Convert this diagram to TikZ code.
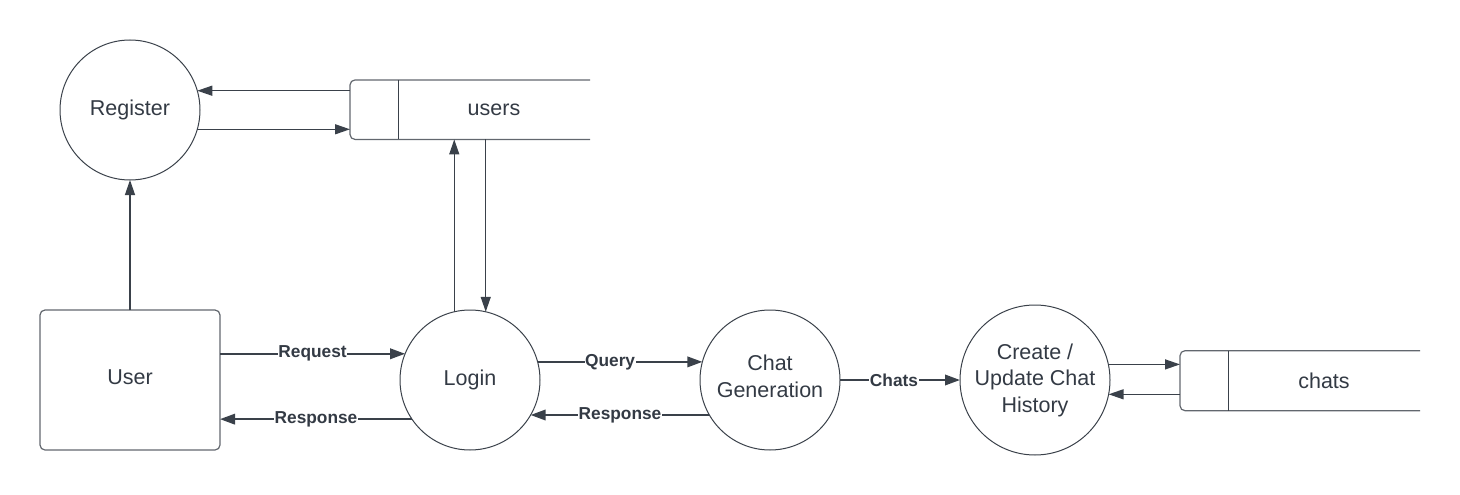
\documentclass[tikz,border=0pt]{standalone}
\usepackage{fontspec}
\setmainfont{Liberation Sans}
\usetikzlibrary{arrows.meta}
\definecolor{dark}{HTML}{3A414A}
\definecolor{boxgray}{HTML}{62676E}
\definecolor{txt}{HTML}{333A44}
\tikzset{
  proc/.style={circle, draw=dark, line width=1pt, inner sep=0pt, outer sep=0pt, minimum size=140pt,
    align=center, text=txt, font=\fontsize{21.5}{26.5}\selectfont},
  extent/.style={rectangle, draw=boxgray, line width=1.2pt, rounded corners=5pt, inner sep=0pt, outer sep=0pt,
    minimum width=180pt, minimum height=140pt, text=txt, font=\fontsize{21.5}{26.5}\selectfont},
  store/.style={rectangle, inner sep=0pt, outer sep=0pt, minimum width=240pt, minimum height=59.5pt,
    text=txt, font=\fontsize{21.5}{26.5}\selectfont},
  storeline/.style={draw=boxgray, line width=1.2pt, rounded corners=5pt},
  divider/.style={draw=dark, line width=1pt},
  arrT/.style={draw=dark, line width=1.3pt, -{Triangle[length=15pt,width=10pt]}},
  arrL/.style={draw=dark, line width=2pt, -{Triangle[length=15pt,width=10.5pt]}},
  lab/.style={fill=white, inner sep=0.6pt, text=txt, font=\fontsize{17.3}{19}\selectfont\bfseries}
}
\begin{document}
\begin{tikzpicture}[x=1pt,y=-1pt]
\useasboundingbox (0,0) rectangle (1460,495);
% nodes
\node[proc] (reg) at (130,110) {Register};
\node[extent] (user) at (130,380) {User\rule[-5pt]{0pt}{0pt}};
\node[proc] (login) at (470,380) {Login};
\node[proc] (chat) at (770,380) {Chat\\Generation\rule[-8pt]{0pt}{0pt}};
\node[proc, minimum size=150pt] (create) at (1035,380) {Create /\\Update Chat\\History};
\node[store] (users) at (470,109.7) {\hspace*{48pt}users};
\node[store, minimum width=240pt, minimum height=60pt] (chats) at (1300,380.7) {\hspace*{48pt}chats};
% store outlines
\draw[storeline] (users.north east) -- (users.north west) -- (users.south west) -- (users.south east);
\draw[divider] ([xshift=48pt]users.north west) -- ([xshift=48pt]users.south west);
\draw[storeline] (chats.north east) -- (chats.north west) -- (chats.south west) -- (chats.south east);
\draw[divider] ([xshift=48pt]chats.north west) -- ([xshift=48pt]chats.south west);
% connectors
\draw[arrT] (user.north) -- (reg.south);
\draw[arrT] (reg.16 -| users.west) -- (reg.16);
\draw[arrT] (reg.-16.5) -- (reg.-16.5 -| users.west);
\draw[arrT] (login.103) -- (login.103 |- users.south);
\draw[arrT] (login.77 |- users.south) -- (login.77);
\draw[arrL] (login.158 -| user.east) -- node[lab]{Request} (login.158);
\draw[arrL] (login.214) -- node[lab]{Response} (login.214 -| user.east);
\draw[arrL] (login.15) -- node[lab,pos=0.44]{Query} (chat.165);
\draw[arrL] (chat.210) -- node[lab]{Response} (login.-30);
\draw[arrL] (chat.east) -- node[lab,pos=0.45]{Chats} (create.west);
\draw[arrT] (create.12) -- (create.12 -| chats.west);
\draw[arrT] (chats.west |- create.-11.5) -- (create.-11.5);
\end{tikzpicture}
\end{document}
